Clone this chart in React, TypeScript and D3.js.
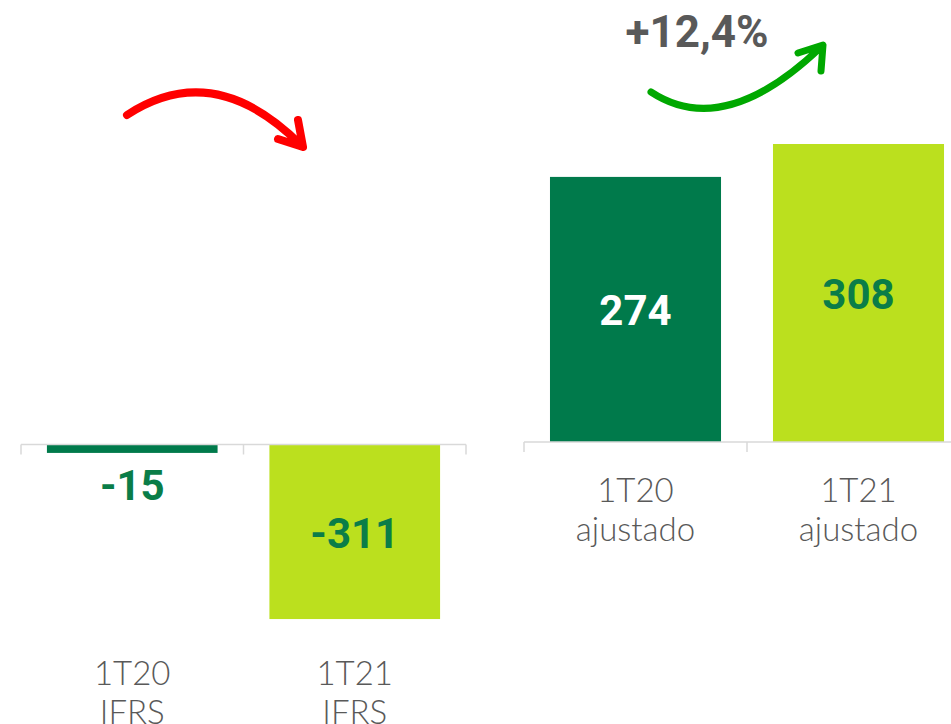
import React, { useRef, useEffect } from "react";
import * as d3 from "d3";

const ifrsCategories = ["1T20\nIFRS", "1T21\nIFRS"];
const ifrsValues = [-15, -311];
const adjCategories = ["1T20\najustado", "1T21\najustado"];
const adjValues = [274, 308];
const growthLabel = "+12,4%";

const barColors = ["#007A4B", "#BBE01E"];
const valueColors = ["#0A7D48", "#0A7D48"];
const insideColors = ["#FFFFFF", "#0A7D48"];
const numFont = "Roboto, 'DejaVu Sans', sans-serif";
const labelFont = "Lato, 'Open Sans', sans-serif";

export default function App() {
  const ref = useRef<SVGSVGElement>(null);

  useEffect(() => {
    const width = 951;
    const height = 724;
    d3.select(ref.current).selectAll("*").remove();
    const svg = d3.select(ref.current).attr("width", width).attr("height", height);

    function panel(
      cats: string[],
      vals: number[],
      xRange: [number, number],
      y: d3.ScaleLinear<number, number>,
      labelY: number
    ) {
      const x = d3.scaleBand<string>()
        .domain(cats)
        .range(xRange)
        .paddingInner(0.233)
        .paddingOuter(0.1165);
      const g = svg.append("g");
      const y0 = y(0);

      g.selectAll("rect")
        .data(vals)
        .enter()
        .append("rect")
        .attr("x", (d, i) => x(cats[i])!)
        .attr("y", d => Math.min(y(d), y0))
        .attr("width", x.bandwidth())
        .attr("height", d => Math.abs(y(d) - y0))
        .attr("fill", (d, i) => barColors[i]);

      // axis line + ticks at category boundaries
      g.append("line")
        .attr("x1", xRange[0]).attr("x2", xRange[1])
        .attr("y1", y0).attr("y2", y0)
        .attr("stroke", "#D9D9D9").attr("stroke-width", 1.5);
      d3.range(cats.length + 1)
        .map(i => xRange[0] + x.step() * i)
        .filter(e => e <= width)
        .forEach(e => {
          g.append("line")
            .attr("x1", e).attr("x2", e)
            .attr("y1", y0).attr("y2", y0 + 10)
            .attr("stroke", "#D9D9D9").attr("stroke-width", 1.5);
        });

      // category labels
      cats.forEach(c => {
        const cx = x(c)! + x.bandwidth() / 2;
        const t = g.append("text")
          .attr("x", cx)
          .attr("y", labelY)
          .attr("text-anchor", "middle")
          .style("font-family", labelFont)
          .style("font-size", "33px")
          .style("font-weight", 300)
          .style("fill", "#595959");
        c.split("\n").forEach((line, k) => {
          t.append("tspan")
            .attr("x", cx)
            .attr("dy", k === 0 ? 0 : 39)
            .text(line);
        });
      });
      return x;
    }

    // left panel (IFRS)
    const yL = d3.scaleLinear().domain([-400, 0]).range([669, 444.5]);
    const xL = panel(ifrsCategories, ifrsValues, [21, 466], yL, 685);
    // right panel (ajustado)
    const yR = d3.scaleLinear().domain([0, 400]).range([442, 55]);
    const xR = panel(adjCategories, adjValues, [524, 970], yR, 502);

    // value labels
    const num = (xx: number, yy: number, txt: string, fill: string) =>
      svg.append("text")
        .attr("x", xx).attr("y", yy)
        .attr("text-anchor", "middle")
        .style("font-family", numFont)
        .style("font-size", "42px")
        .style("font-weight", 700)
        .style("fill", fill)
        .text(txt);

    ifrsValues.forEach((v, i) => {
      const cx = xL(ifrsCategories[i])! + xL.bandwidth() / 2;
      const h = Math.abs(yL(v) - yL(0));
      if (h < 60) num(cx, yL(v) + 47, String(v), valueColors[i]);
      else num(cx, (yL(v) + yL(0)) / 2 + 16, String(v), insideColors[i]);
    });
    adjValues.forEach((v, i) => {
      const cx = xR(adjCategories[i])! + xR.bandwidth() / 2;
      num(cx, (yR(v) + yR(0)) / 2 + 16, String(v), insideColors[i]);
    });

    // growth annotation
    svg.append("text")
      .attr("x", 697).attr("y", 47)
      .attr("text-anchor", "middle")
      .style("font-family", numFont)
      .style("font-size", "44px")
      .style("font-weight", 700)
      .style("fill", "#595959")
      .text(growthLabel);

    const arrow = (d: string, color: string, w: number) =>
      svg.append("path")
        .attr("d", d)
        .attr("fill", "none")
        .attr("stroke", color)
        .attr("stroke-width", w)
        .attr("stroke-linecap", "round")
        .attr("stroke-linejoin", "round");

    const red = d3.path();
    red.moveTo(127, 115);
    red.quadraticCurveTo(214, 58, 301, 145);
    red.moveTo(298, 120);
    red.lineTo(303, 147);
    red.lineTo(278, 139);
    arrow(red.toString(), "#FF0000", 8);

    const green = d3.path();
    green.moveTo(651, 92);
    green.quadraticCurveTo(724, 140, 821, 47);
    green.moveTo(798, 53);
    green.lineTo(823, 45);
    green.lineTo(821, 71);
    arrow(green.toString(), "#00A800", 7);
  }, []);

  return (
    <svg ref={ref} style={{ position: "absolute", left: 0, top: 0, width: 951, height: 724 }}></svg>
  );
}
